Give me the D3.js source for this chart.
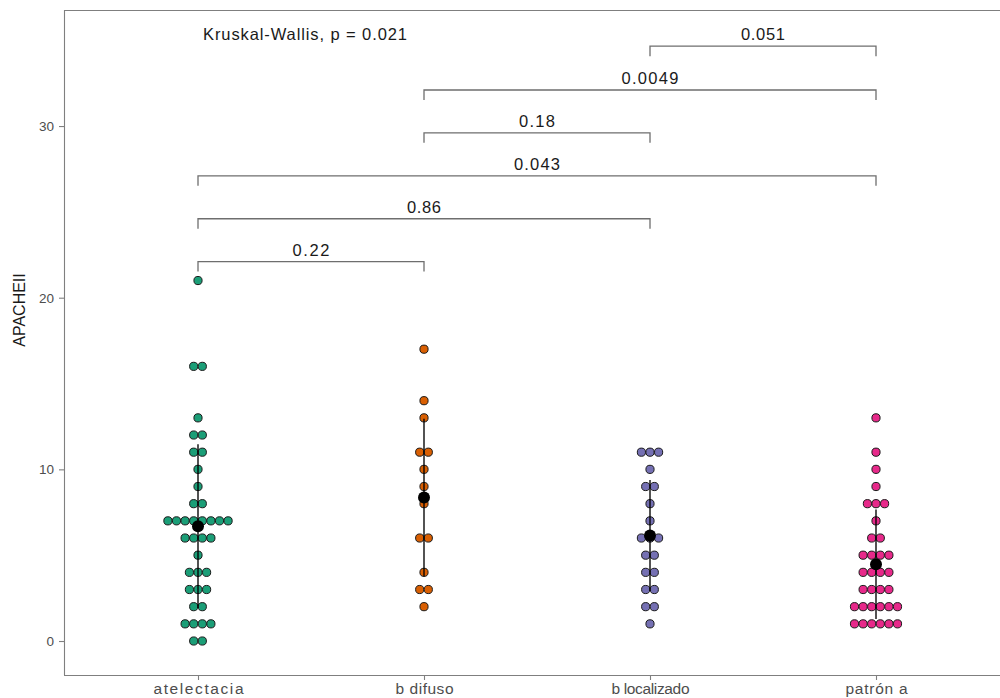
<!DOCTYPE html>
<html>
<head>
<meta charset="utf-8">
<script src="https://cdn.jsdelivr.net/npm/d3@7"></script>
<style>
  html, body { margin: 0; padding: 0; background: #fff; }
  svg { display: block; font-family: "Liberation Sans", Arial, Helvetica, sans-serif; }
</style>
</head>
<body>
<svg id="chart" width="1000" height="698"></svg>
<script>
// APACHE II score by ultrasound pattern
const categories = ["atelectacia", "b difuso", "b localizado", "patrón a"];
const apacheAtelectacia = [21,16,16,13,12,12,11,11,10,9,8,8,7,7,7,7,7,7,7,7,6,6,6,6,5,4,4,4,3,3,3,2,2,1,1,1,1,0,0];
const apacheDifuso = [17,14,13,11,11,10,9,8,6,6,4,3,3,2];
const apacheLocalizado = [11,11,11,10,9,9,8,7,6,6,6,5,5,4,4,3,3,2,2,1];
const apachePatronA = [13,11,10,9,8,8,8,7,6,6,5,5,5,5,4,4,4,4,3,3,3,3,2,2,2,2,2,2,1,1,1,1,1,1];
const groupColors = ["#1B9E77", "#D95F02", "#7570B3", "#E7298A"];

// pairwise comparisons (Wilcoxon p-values) and bracket heights
const pairFrom = ["atelectacia", "atelectacia", "atelectacia", "b difuso", "b difuso", "b localizado"];
const pairTo   = ["b difuso", "b localizado", "patrón a", "b localizado", "patrón a", "patrón a"];
const pairP    = ["0.22", "0.86", "0.043", "0.18", "0.0049", "0.051"];
const pairY    = [22.1, 24.6, 27.1, 29.6, 32.1, 34.65];
const globalTest = "Kruskal-Wallis, p = 0.021";
const globalTestY = 35.55;

const yTicks = [0, 10, 20, 30];
const yLimits = [-1.98, 36.76];
const yTitle = "APACHEII";

const groups = [apacheAtelectacia, apacheDifuso, apacheLocalizado, apachePatronA];

const svg = d3.select("#chart");
const panel = { left: 64, right: 1012, top: 10, bottom: 675 };

// discrete positions 1..4 with 0.6 expansion on each side
const x = d3.scaleLinear().domain([1, categories.length]).range([198, 876]);
const xOf = name => x(categories.indexOf(name) + 1);
const y = d3.scaleLinear().domain(yLimits).range([panel.bottom, panel.top]);

const axisGrey = "#7f7f7f";
const tickText = "#4d4d4d";

// stretch a text element to a given width by spacing its glyphs
function fitWidth(sel, w) {
  sel.attr("textLength", w).attr("lengthAdjust", "spacing");
}

// panel frame (top edge visible, right edge falls outside the canvas)
svg.append("line")
  .attr("x1", panel.left).attr("x2", panel.right)
  .attr("y1", panel.top + 0.5).attr("y2", panel.top + 0.5)
  .attr("stroke", axisGrey).attr("stroke-width", 1.1);

// y axis
const yAxis = svg.append("g").attr("transform", `translate(${panel.left},0)`)
  .call(d3.axisLeft(y).tickValues(yTicks).tickSize(5).tickPadding(5).tickSizeOuter(0));
yAxis.select(".domain").attr("stroke", axisGrey).attr("stroke-width", 1.1)
  .attr("d", `M0.5,${panel.top}V${panel.bottom}`);
yAxis.selectAll(".tick line").attr("stroke", axisGrey).attr("stroke-width", 1.1);
yAxis.selectAll(".tick text").attr("fill", tickText).style("font-size", "13.5px")
  .style("font-family", "'Liberation Sans', Arial, sans-serif");

// x axis
const xAxis = svg.append("g").attr("transform", `translate(0,${panel.bottom})`)
  .call(d3.axisBottom(x).tickValues(d3.range(1, categories.length + 1))
    .tickFormat(i => categories[i - 1]).tickSize(5).tickPadding(3).tickSizeOuter(0));
xAxis.select(".domain").attr("stroke", axisGrey).attr("stroke-width", 1.1)
  .attr("d", `M${panel.left},0.5H${panel.right}`);
xAxis.selectAll(".tick line").attr("stroke", axisGrey).attr("stroke-width", 1.1);
const xLabelWidths = [90, 58, 78, 62];
xAxis.selectAll(".tick text").attr("fill", tickText).style("font-size", "15.5px")
  .style("font-family", "'Liberation Sans', Arial, sans-serif")
  .each(function(d, i) { fitWidth(d3.select(this), xLabelWidths[i]); });

// y axis title
svg.append("text")
  .attr("transform", `translate(25,${310}) rotate(-90)`)
  .attr("text-anchor", "middle")
  .style("font-size", "16px").attr("fill", "#1a1a1a")
  .text(yTitle);

// dot plot: values binned by integer, stacked centred on the group position
const dotR = 4.1;
const dotStep = 8.6;
const dots = [];
groups.forEach((vals, gi) => {
  const counts = d3.rollup(vals, v => v.length, v => v);
  counts.forEach((n, v) => {
    for (let i = 0; i < n; i++) {
      dots.push({ g: gi, v: v, off: (i - (n - 1) / 2) * dotStep });
    }
  });
});
svg.append("g").selectAll("circle").data(dots).join("circle")
  .attr("cx", d => x(d.g + 1) + d.off)
  .attr("cy", d => y(d.v))
  .attr("r", dotR)
  .attr("fill", d => groupColors[d.g])
  .attr("stroke", "#1a1a1a").attr("stroke-width", 1);

// mean ± sd
const summary = groups.map((vals, gi) => ({
  g: gi, mean: d3.mean(vals), sd: d3.deviation(vals)
}));
svg.append("g").selectAll("line").data(summary).join("line")
  .attr("x1", d => x(d.g + 1)).attr("x2", d => x(d.g + 1))
  .attr("y1", d => y(d.mean - d.sd)).attr("y2", d => y(d.mean + d.sd))
  .attr("stroke", "#000").attr("stroke-opacity", 0.85).attr("stroke-width", 1.6);
svg.append("g").selectAll("circle").data(summary).join("circle")
  .attr("cx", d => x(d.g + 1)).attr("cy", d => y(d.mean))
  .attr("r", 6).attr("fill", "#000");

// comparison brackets
const tip = 0.58;
const pWidths = [37, 34, 46, 36, 57, 44];
const brackets = pairFrom.map((a, i) => ({ a, b: pairTo[i], p: pairP[i], yv: pairY[i], w: pWidths[i] }));
const bg = svg.append("g");
bg.selectAll("path").data(brackets).join("path")
  .attr("d", d => {
    const x1 = xOf(d.a), x2 = xOf(d.b), yy = y(d.yv), yt = y(d.yv - tip);
    return `M${x1},${yt}V${yy}H${x2}V${yt}`;
  })
  .attr("fill", "none").attr("stroke", "#6e6e6e").attr("stroke-width", 1.3);
bg.selectAll("text").data(brackets).join("text")
  .attr("x", d => (xOf(d.a) + xOf(d.b)) / 2)
  .attr("y", d => y(d.yv) - 6)
  .attr("text-anchor", "middle")
  .style("font-size", "16.5px").attr("fill", "#1a1a1a")
  .text(d => d.p)
  .each(function(d) { fitWidth(d3.select(this), d.w); });

// global test label
svg.append("text")
  .attr("x", x(1) + 5).attr("y", y(globalTestY) + 9)
  .style("font-size", "16.5px").attr("fill", "#1a1a1a")
  .text(globalTest)
  .call(fitWidth, 204);
</script>
</body>
</html>
